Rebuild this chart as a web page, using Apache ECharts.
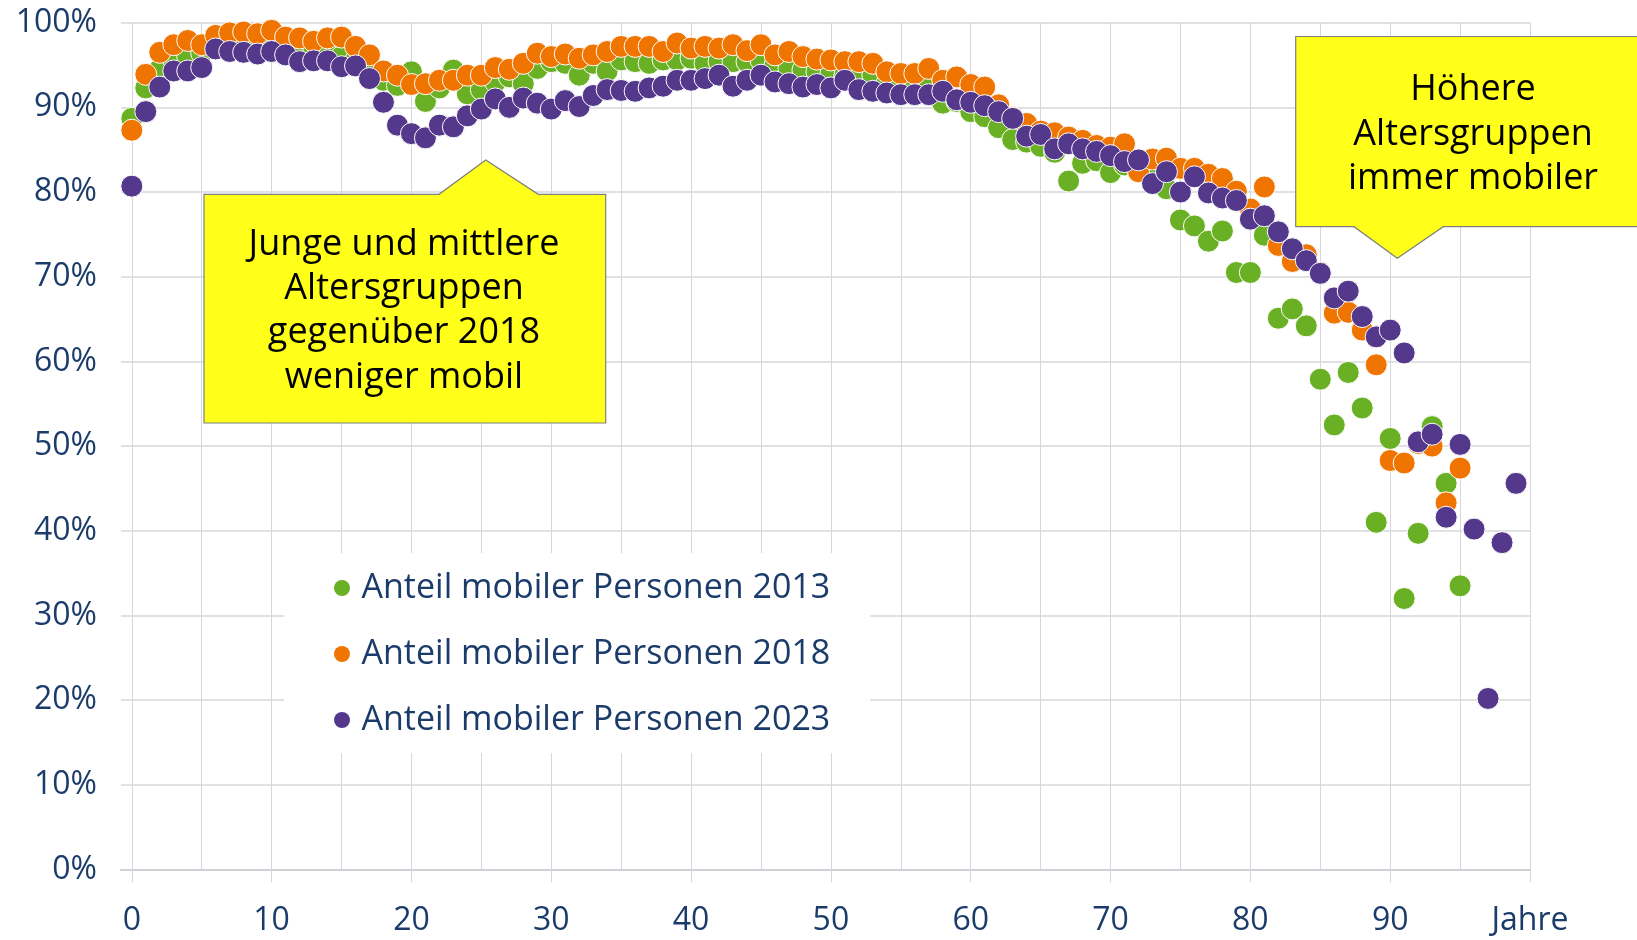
<!DOCTYPE html>
<html>
<head>
<meta charset="utf-8">
<script src="https://cdn.jsdelivr.net/npm/echarts@6/dist/echarts.min.js"></script>
<style>
html,body{margin:0;padding:0;background:#fff;}
#chart{width:1637px;height:940px;}
</style>
</head>
<body>
<div id="chart"></div>
<script>
const ages = [0,1,2,3,4,5,6,7,8,9,10,11,12,13,14,15,16,17,18,19,20,21,22,23,24,25,26,27,28,29,30,31,32,33,34,35,36,37,38,39,40,41,42,43,44,45,46,47,48,49,50,51,52,53,54,55,56,57,58,59,60,61,62,63,64,65,66,67,68,69,70,71,72,73,74,75,76,77,78,79,80,81,82,83,84,85,86,87,88,89,90,91,92,93,94,95,96,97,98,99];

const seriesNames = ['Anteil mobiler Personen 2013','Anteil mobiler Personen 2018','Anteil mobiler Personen 2023'];

const values2013 = [88.7,92.3,94.5,95.6,96.0,96.4,97.5,97.8,97.5,97.5,97.8,97.0,96.6,96.5,96.4,96.0,95.5,94.8,93.2,92.6,
94.2,90.7,92.3,94.4,91.6,92.1,93.0,93.6,92.8,94.6,95.4,95.2,93.8,95.2,94.3,95.6,95.4,95.2,95.6,95.6,
95.8,95.2,95.4,95.4,95.4,95.6,95.0,94.6,94.4,94.2,94.0,93.8,93.8,93.8,92.8,92.5,92.3,92.3,90.5,90.7,
89.5,88.9,87.6,86.2,85.9,85.4,84.7,81.3,83.4,83.7,82.3,83.2,82.4,81.5,80.4,76.7,76.0,74.2,75.4,70.5,
70.5,74.9,65.1,66.2,64.2,57.9,52.5,58.7,54.5,41.0,50.9,32.0,39.7,52.3,45.6,33.5];

const values2018 = [87.3,93.9,96.5,97.4,97.9,97.4,98.5,98.8,98.9,98.7,99.1,98.3,98.2,97.8,98.2,98.3,97.2,96.2,94.3,93.8,
92.7,92.8,93.2,93.2,93.8,93.8,94.7,94.5,95.2,96.4,96.0,96.3,95.8,96.2,96.6,97.2,97.2,97.2,96.6,97.6,
97.0,97.2,97.0,97.4,96.7,97.4,96.2,96.6,96.0,95.7,95.6,95.4,95.4,95.2,94.2,94.0,94.0,94.6,93.2,93.6,
92.7,92.4,90.3,88.8,88.1,87.2,87.0,86.5,86.1,85.5,85.3,85.7,82.4,83.9,84.0,82.8,82.8,82.1,81.6,80.1,
78.0,80.6,73.7,71.8,72.6,70.5,65.7,65.8,63.7,59.6,48.3,48.0,50.3,50.0,43.3,47.4];

const values2023 = [80.7,89.5,92.4,94.3,94.3,94.7,96.9,96.6,96.5,96.3,96.6,96.2,95.4,95.5,95.5,94.8,94.9,93.4,90.6,87.9,
86.9,86.4,87.9,87.7,89.0,89.8,91.0,90.0,91.1,90.5,89.8,90.8,90.1,91.4,92.1,92.0,91.9,92.3,92.5,93.2,
93.2,93.4,93.8,92.5,93.2,93.8,93.0,92.8,92.4,92.7,92.3,93.2,92.1,91.9,91.7,91.5,91.5,91.5,91.9,90.9,
90.6,90.2,89.5,88.7,86.6,86.8,85.1,85.7,85.1,84.8,84.3,83.6,83.8,81.0,82.4,80.0,81.8,79.9,79.3,79.0,
76.8,77.2,75.3,73.3,71.9,70.4,67.5,68.3,65.3,62.9,63.7,61.0,50.5,51.4,41.6,50.2,40.2,20.2,38.6,45.6];

const yTicks = [0,10,20,30,40,50,60,70,80,90,100];
const xAxisLabelEnd = 'Jahre';

const noteLeft = 'Junge und mittlere\nAltersgruppen\ngegenüber 2018\nweniger mobil';
const noteRight = 'Höhere\nAltersgruppen\nimmer mobiler';

const colors = ['#6ab024','#f07400','#54388c'];
const navy = '#1b3c6a';
const gridColor = '#d6d6dc';
const FONT = '"Open Sans", "Noto Sans", sans-serif';

function pairs(vals){ return vals.map((v,i)=>[ages[i], v]); }

const chart = echarts.init(document.getElementById('chart'), null, {renderer:'canvas'});

const GT = 22.7, GB = 70.5;

const option = {
  animation: false,
  backgroundColor: '#fff',
  textStyle: { fontFamily: FONT },
  grid: [
    { left: 121, right: 107, top: GT, bottom: GB },
    { left: 131.8, right: 107, top: GT, bottom: GB }
  ],
  xAxis: [
    { type:'value', gridIndex:0, min:0, max:1,
      axisLine:{ show:true, lineStyle:{ color:'#d0d0d6', width:2 } },
      axisTick:{show:false}, axisLabel:{show:false}, splitLine:{show:false} },
    { type:'value', gridIndex:1, min:0, max:100, interval:10,
      axisLine:{show:false},
      axisTick:{ show:true, length:13, lineStyle:{ color:gridColor, width:1 } },
      axisLabel:{ color:navy, fontSize:32, fontFamily:FONT, margin:35,
        formatter: v => v === 100 ? xAxisLabelEnd : String(v) },
      splitLine:{ show:true, lineStyle:{ color:gridColor, width:1 } },
      minorTick:{ show:false, splitNumber:2 },
      minorSplitLine:{ show:true, lineStyle:{ color:gridColor, width:1 } }
    }
  ],
  yAxis: [
    { type:'value', gridIndex:0, min:yTicks[0], max:yTicks[yTicks.length-1], interval:10,
      axisLine:{show:false}, axisTick:{show:false},
      axisLabel:{ color:navy, fontSize:32, fontFamily:FONT, margin:24, formatter:'{value}%' },
      splitLine:{ show:true, lineStyle:{ color:gridColor, width:1.5 } } },
    { type:'value', gridIndex:1, min:0, max:100, show:false, splitLine:{show:false} }
  ],
  legend: {
    left: 284, top: 553, orient:'vertical',
    backgroundColor:'#fff',
    padding:[15, 40, 13, 50],
    itemGap: 26,
    itemWidth: 29, itemHeight: 16,
    icon: 'circle',
    itemStyle:{ borderWidth:0 },
    textStyle:{ color:navy, fontSize:34, fontFamily:FONT, lineHeight:40 },
    data: seriesNames
  },
  series: [values2013, values2018, values2023].map((vals, k) => ({
    name: seriesNames[k],
    type: 'scatter',
    xAxisIndex: 1, yAxisIndex: 1,
    symbol: 'circle',
    symbolSize: 22,
    itemStyle: { color: colors[k], borderColor:'#ffffff', borderWidth:1, opacity:1 },
    emphasis: { disabled: true },
    data: pairs(vals)
  })),
  graphic: [
    { type:'polygon', z:50,
      shape:{ points:[[204,194.3],[439,194.3],[485.7,160],[538.3,194.3],[605.7,194.3],[605.7,423],[204,423]] },
      style:{ fill:'#ffff1a', stroke:'#7f7f7f', lineWidth:1.2 } },
    { type:'text', z:51, x:404, y:311,
      style:{ text:noteLeft, fill:'#000', font:'36px ' + FONT, lineHeight:44.3,
        textAlign:'center', textVerticalAlign:'middle', align:'center', verticalAlign:'middle' } },
    { type:'polygon', z:50,
      shape:{ points:[[1295.7,36.5],[1640,36.5],[1640,226.7],[1443.3,226.7],[1397.3,258.3],[1354,226.7],[1295.7,226.7]] },
      style:{ fill:'#ffff1a', stroke:'#7f7f7f', lineWidth:1.2 } },
    { type:'text', z:51, x:1473, y:134.5,
      style:{ text:noteRight, fill:'#000', font:'36px ' + FONT, lineHeight:44.3,
        textAlign:'center', textVerticalAlign:'middle', align:'center', verticalAlign:'middle' } }
  ]
};

chart.setOption(option);
</script>
</body>
</html>
